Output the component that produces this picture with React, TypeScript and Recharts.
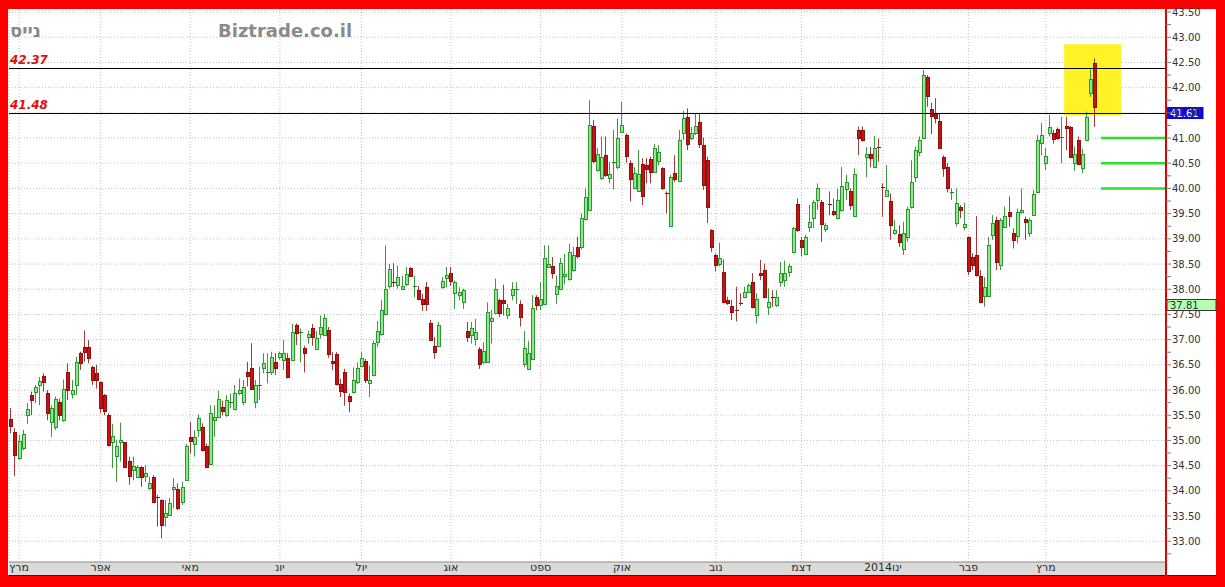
import React from 'react';
import {
  ComposedChart,
  Bar,
  XAxis,
  YAxis,
  CartesianGrid,
  ReferenceLine,
  ReferenceArea,
} from 'recharts';

// ---------------- DATA ----------------
const opens = [
  35.42, 35.16, 34.66, 34.84, 35.5, 35.9, 35.97, 36.1, 36.28, 35.95,
  35.37, 35.27, 35.77, 35.4, 36.36, 35.92, 36.1, 36.73, 36.86, 36.86,
  36.45, 36.33, 36.15, 35.9, 35.5, 34.97, 34.69, 34.96, 34.96, 34.6,
  34.41, 34.28, 34.48, 34.3, 34.05, 34.28, 33.88, 33.82, 33.49, 33.53,
  34.03, 34.03, 33.77, 34.21, 35.07, 34.93, 35.21, 35.27, 34.89, 34.53,
  35.4, 35.46, 35.67, 35.5, 35.74, 35.62, 35.95, 35.77, 36.36, 36.43,
  35.77, 36.09, 36.43, 36.33, 36.36, 36.56, 36.66, 36.6, 36.63, 36.6,
  37.29, 37.14, 36.84, 37.05, 37.23, 36.82, 37.12, 37.1, 37.2, 36.57,
  36.72, 36.11, 36.36, 35.88, 35.96, 36.16, 36.47, 36.57, 36.14, 36.29,
  36.95, 37.12, 37.51, 38.07, 38.15, 38.09, 38.01, 38.11, 38.42, 38.05,
  37.99, 37.81, 38.04, 37.33, 36.87, 36.88, 38.05, 38.23, 38.32, 37.92,
  37.89, 37.74, 37.17, 37.1, 37.02, 36.82, 36.55, 36.55, 37.37, 37.53,
  37.78, 37.78, 37.48, 37.88, 37.98, 37.7, 36.51, 36.42, 36.62, 37.84,
  37.68, 37.7, 38.45, 38.47, 37.9, 38.01, 38.26, 38.21, 38.39, 38.83,
  38.84, 39.39, 39.57, 41.24, 40.37, 40.2, 40.66, 40.2, 40.5, 40.42,
  41.12, 41.06, 40.51, 40.0, 39.95, 40.48, 40.46, 40.58, 40.33, 40.55,
  40.4, 39.91, 39.25, 40.3, 40.15, 41.09, 41.42, 41.0, 41.09, 41.32,
  40.86, 40.56, 39.17, 38.68, 38.5, 38.35, 37.78, 37.67, 37.59, 37.73,
  37.84, 37.95, 38.15, 37.49, 38.33, 38.38, 37.65, 37.84, 37.69, 38.15,
  38.18, 38.35, 38.74, 39.7, 38.98, 38.7, 39.24, 39.41, 39.78, 39.74,
  39.19, 39.7, 39.56, 39.41, 39.57, 39.98, 39.94, 39.45, 41.15, 41.15,
  40.62, 40.68, 40.42, 40.82, 40.03, 39.85, 39.76, 39.12, 39.1, 38.79,
  39.04, 39.64, 40.22, 40.73, 41.01, 42.22, 41.57, 41.48, 41.33, 40.63,
  40.43, 39.9, 39.32, 39.64, 39.23, 39.04, 38.64, 38.68, 38.26, 37.86,
  37.86, 39.07, 39.37, 38.48, 39.24, 39.54, 39.11, 39.06, 39.54, 39.39,
  39.11, 39.47, 39.93, 40.91, 40.51, 41.09, 41.09, 41.17, 41.0, 41.24,
  41.21, 40.5, 40.97, 40.4, 40.97, 41.9, 42.49,
];

const highs = [
  35.64, 35.24, 35.11, 35.21, 35.74, 35.97, 36.1, 36.26, 36.33, 36.0,
  35.7, 35.87, 35.83, 36.21, 36.53, 36.2, 36.66, 36.76, 37.18, 36.99,
  36.48, 36.5, 36.17, 35.92, 35.54, 35.33, 35.01, 35.35, 34.97, 34.68,
  34.68, 34.51, 34.49, 34.51, 34.28, 34.31, 33.92, 33.83, 33.82, 33.85,
  34.25, 34.15, 34.18, 34.93, 35.37, 35.2, 35.52, 35.34, 34.94, 35.7,
  35.7, 35.99, 35.79, 35.9, 35.93, 36.1, 36.23, 36.2, 36.56, 36.93,
  36.2, 36.46, 36.73, 36.73, 36.76, 36.73, 36.76, 36.99, 36.73, 37.31,
  37.32, 37.22, 36.88, 37.18, 37.31, 37.17, 37.48, 37.51, 37.25, 36.75,
  36.75, 36.22, 36.42, 35.93, 36.45, 36.55, 36.75, 36.62, 36.49, 36.98,
  37.37, 37.78, 38.87, 38.5, 38.52, 38.47, 38.27, 38.44, 38.44, 38.27,
  38.07, 37.91, 38.14, 37.39, 37.05, 37.35, 38.24, 38.44, 38.44, 38.17,
  38.04, 38.01, 37.35, 37.35, 37.41, 36.85, 36.95, 37.74, 37.59, 38.21,
  37.81, 38.09, 37.71, 38.14, 38.14, 37.78, 37.17, 36.97, 37.88, 37.88,
  38.14, 38.87, 38.87, 38.64, 38.27, 38.62, 38.7, 38.9, 38.84, 39.04,
  39.5, 40.0, 41.75, 41.36, 40.8, 41.03, 41.03, 40.53, 41.16, 41.39,
  41.72, 41.09, 40.56, 40.42, 40.76, 40.6, 40.6, 40.63, 40.88, 40.86,
  40.42, 39.94, 40.27, 40.66, 41.16, 41.54, 41.59, 41.22, 41.48, 41.48,
  41.01, 40.63, 39.19, 38.71, 38.92, 38.59, 37.85, 37.79, 38.05, 37.92,
  38.05, 38.11, 38.32, 37.92, 38.58, 38.51, 38.02, 37.98, 37.98, 38.54,
  38.57, 38.51, 39.24, 39.8, 39.04, 39.08, 39.67, 39.77, 40.1, 39.77,
  39.31, 39.94, 39.8, 40.0, 40.43, 40.27, 40.0, 40.4, 41.23, 41.23,
  40.82, 40.82, 41.04, 40.99, 40.1, 40.46, 39.9, 39.37, 39.27, 39.34,
  39.64, 40.56, 40.83, 41.03, 42.35, 42.25, 41.7, 41.79, 41.49, 40.66,
  40.5, 40.0, 40.0, 39.67, 39.72, 39.05, 38.71, 39.45, 38.38, 38.24,
  39.04, 39.47, 39.44, 39.41, 39.64, 39.84, 39.21, 39.6, 40.0, 39.44,
  39.41, 39.97, 41.06, 41.3, 40.8, 41.46, 41.16, 41.21, 41.42, 41.42,
  41.24, 40.83, 41.03, 40.79, 41.52, 42.36, 42.58,
];

const lows = [
  35.14, 34.29, 34.61, 34.81, 35.33, 35.5, 35.74, 35.7, 35.97, 35.4,
  35.07, 35.21, 35.4, 35.37, 35.8, 35.83, 35.9, 36.4, 36.56, 36.53,
  36.1, 36.03, 35.54, 35.5, 34.88, 34.45, 34.18, 34.58, 34.45, 34.12,
  34.21, 34.25, 34.08, 34.18, 34.02, 33.75, 33.29, 33.06, 33.29, 33.52,
  33.65, 33.62, 33.72, 34.2, 34.74, 34.68, 35.07, 34.78, 34.45, 34.52,
  35.07, 35.44, 35.5, 35.47, 35.64, 35.61, 35.9, 35.7, 36.07, 36.0,
  35.64, 35.8, 36.33, 36.13, 36.3, 36.3, 36.6, 36.4, 36.23, 36.59,
  36.89, 36.55, 36.35, 36.92, 36.88, 36.8, 37.02, 37.08, 36.64, 36.39,
  36.09, 35.86, 35.69, 35.56, 35.93, 36.12, 36.45, 36.14, 35.86, 36.27,
  36.85, 37.08, 37.48, 38.01, 38.04, 38.01, 37.98, 38.06, 38.24, 37.84,
  37.78, 37.57, 37.57, 36.98, 36.62, 36.87, 38.01, 38.04, 38.07, 37.61,
  37.78, 37.61, 36.95, 36.92, 36.88, 36.42, 36.52, 36.54, 36.92, 37.51,
  37.45, 37.48, 37.41, 37.78, 37.71, 37.26, 36.45, 36.4, 36.6, 37.58,
  37.58, 37.69, 38.44, 38.21, 37.71, 37.98, 38.1, 38.17, 38.35, 38.61,
  38.79, 39.36, 39.56, 40.5, 40.33, 40.17, 40.23, 40.1, 39.98, 40.38,
  41.1, 40.51, 39.74, 39.98, 39.93, 39.67, 40.1, 40.1, 40.31, 40.46,
  39.97, 39.5, 39.23, 40.13, 40.13, 40.96, 40.76, 40.96, 41.06, 40.8,
  39.97, 39.31, 38.74, 38.35, 38.45, 37.72, 37.69, 37.39, 37.36, 37.67,
  37.82, 37.92, 37.62, 37.32, 38.18, 37.82, 37.49, 37.65, 37.65, 38.05,
  38.05, 38.25, 38.71, 39.14, 38.65, 38.68, 39.14, 39.21, 39.57, 38.94,
  39.14, 39.47, 39.45, 39.39, 39.54, 39.77, 39.57, 39.44, 40.66, 40.93,
  40.22, 40.42, 40.4, 40.53, 39.44, 39.84, 38.98, 39.08, 38.84, 38.68,
  38.94, 39.6, 40.13, 40.64, 40.99, 41.62, 41.08, 41.29, 40.78, 40.23,
  39.92, 39.77, 39.24, 39.41, 39.17, 38.28, 38.38, 38.25, 37.72, 37.65,
  37.85, 38.98, 38.38, 38.38, 39.21, 39.24, 38.81, 38.91, 39.5, 38.98,
  39.04, 39.45, 39.9, 40.66, 40.37, 41.03, 40.89, 40.96, 40.5, 40.76,
  40.6, 40.35, 40.46, 40.3, 40.96, 41.82, 41.22,
];

const closes = [
  35.29, 34.71, 34.99, 35.13, 35.62, 35.8, 36.07, 36.18, 36.15, 35.54,
  35.64, 35.83, 35.5, 36.03, 36.0, 36.01, 36.56, 36.53, 36.76, 36.63,
  36.19, 36.2, 35.64, 35.59, 34.91, 35.09, 34.88, 35.0, 34.48, 34.29,
  34.5, 34.48, 34.27, 34.35, 34.16, 33.78, 33.85, 33.32, 33.57, 33.75,
  34.08, 33.65, 34.08, 34.88, 34.98, 35.07, 35.44, 34.81, 34.48, 35.55,
  35.47, 35.83, 35.59, 35.8, 35.77, 35.95, 36.01, 36.07, 36.28, 36.03,
  36.1, 36.1, 36.54, 36.35, 36.66, 36.43, 36.73, 36.74, 36.26, 37.16,
  37.14, 37.15, 36.73, 37.12, 37.06, 37.04, 37.25, 37.43, 36.72, 36.53,
  36.12, 35.98, 35.96, 35.79, 36.19, 36.44, 36.64, 36.19, 36.2, 36.93,
  37.17, 37.59, 38.01, 38.41, 38.13, 38.24, 38.07, 38.31, 38.27, 38.07,
  37.81, 37.71, 37.71, 37.0, 36.75, 37.3, 38.17, 38.29, 38.17, 38.14,
  37.94, 37.98, 37.06, 37.23, 37.16, 36.52, 36.77, 37.55, 37.43, 38.01,
  37.53, 37.73, 37.63, 38.01, 38.0, 37.45, 36.84, 36.73, 37.63, 37.68,
  37.81, 38.62, 38.5, 38.32, 38.07, 38.52, 38.31, 38.74, 38.68, 38.66,
  39.41, 39.82, 41.26, 40.55, 40.68, 40.63, 40.27, 40.29, 40.52, 41.01,
  41.26, 40.64, 40.18, 40.31, 40.29, 39.85, 40.38, 40.33, 40.81, 40.73,
  40.0, 39.89, 40.23, 40.18, 40.96, 41.39, 40.89, 41.09, 41.24, 40.89,
  40.07, 39.64, 38.84, 38.48, 38.61, 37.75, 37.73, 37.55, 37.57, 37.71,
  37.95, 38.08, 37.65, 37.8, 38.28, 37.85, 37.75, 37.82, 37.85, 38.32,
  38.32, 38.46, 39.21, 39.17, 38.83, 39.04, 39.34, 39.74, 40.0, 39.29,
  39.27, 39.68, 39.49, 39.77, 40.05, 40.13, 39.67, 40.29, 41.01, 40.97,
  40.68, 40.6, 40.8, 40.8, 40.0, 39.97, 39.27, 39.17, 38.94, 39.11,
  39.6, 40.13, 40.76, 40.96, 42.25, 41.83, 41.44, 41.39, 40.8, 40.4,
  40.0, 39.92, 39.72, 39.57, 39.29, 38.37, 38.48, 38.28, 37.75, 38.04,
  38.88, 39.31, 38.55, 39.37, 39.45, 39.45, 38.98, 39.54, 39.57, 39.34,
  39.37, 39.89, 40.96, 41.06, 40.64, 41.22, 40.99, 41.01, 41.03, 41.19,
  40.62, 40.68, 40.49, 40.69, 41.41, 42.18, 41.61,
];

// empty trading-day slots to the right of the last candle
const emptySlots = 17;

// month ticks (slot index of first trading day) and their labels
const monthStarts = [2, 22, 44, 66, 86, 108, 130, 150, 173, 194, 214, 235, 254];
const monthLabels = ['מרץ', 'אפר', 'מאי', 'יונ', 'יול', 'אוג', 'ספט', 'אוק', 'נוב', 'דצמ', '2014ינו', 'פבר', 'מרץ'];

// y axis
const yDomain: [number, number] = [32.588, 43.56];
const majorTicks = [
  33, 33.5, 34, 34.5, 35, 35.5, 36, 36.5, 37, 37.5, 38, 38.5, 39, 39.5, 40, 40.5,
  41, 41.5, 42, 42.5, 43, 43.5,
];
const minorTicks = [
  32.75, 33.25, 33.75, 34.25, 34.75, 35.25, 35.75, 36.25, 36.75, 37.25, 37.75, 38.25,
  38.75, 39.25, 39.75, 40.25, 40.75, 41.25, 41.75, 42.25, 42.75, 43.25,
];
const allTicks = [...majorTicks, ...minorTicks].sort((a, b) => a - b);

// annotations
const levelLines = [42.37, 41.48];
const supportLevels = [41.0, 40.5, 40.0];
const supportStart = [268, 268, 268];
const supportEnd = 283;
const highlight = { x1: 259, x2: 272, y1: 41.44, y2: 42.86 };
const lastPrice = 41.61;
const markerPrice = 37.81;

// ---------------- TABLE ----------------
type Row = { i: number; o: number | null; h: number | null; l: number | null; c: number | null };
const rows: Row[] = [];
for (let k = 0; k < opens.length + emptySlots; k++) {
  if (k < opens.length) rows.push({ i: k, o: opens[k], h: highs[k], l: lows[k], c: closes[k] });
  else rows.push({ i: k, o: null, h: null, l: null, c: null });
}

const labelOf = (v: number) => {
  const idx = monthStarts.indexOf(v);
  return idx >= 0 ? monthLabels[idx] : '';
};

const FONT = "'DejaVu Sans', Verdana, sans-serif";

// ---------------- SHAPES ----------------
const Candle = (props: any) => {
  const { x, y, width, height, payload } = props;
  if (!payload || payload.o == null || x == null || y == null) return null;
  const { o, h, l, c } = payload as { o: number; h: number; l: number; c: number };
  const top = Math.min(y, y + height);
  const span = Math.abs(height);
  const ppu = h > l ? span / (h - l) : 0;
  const py = (v: number) => top + (h - v) * ppu;
  const p = Math.floor(x + width / 2);
  const cx = p + 0.5;
  const up = c >= o;
  const wick = up ? '#3c9a3c' : '#a33a3a';
  const fill = up ? '#8ee88e' : '#cc1111';
  const edge = up ? '#2e962e' : '#8c1010';
  const bTop = Math.round(py(Math.max(o, c)));
  const bBot = Math.round(py(Math.min(o, c)));
  return (
    <g>
      <line x1={cx} x2={cx} y1={top} y2={top + span} stroke={wick} strokeWidth={1} />
      {bBot - bTop < 2 ? (
        <line x1={p - 1} x2={p + 3} y1={bTop + 0.5} y2={bTop + 0.5} stroke={up ? '#2e7a2e' : '#6a1a1a'} strokeWidth={1} />
      ) : (
        <rect x={p - 0.5} y={bTop + 0.5} width={3} height={bBot - bTop} fill={fill} stroke={edge} strokeWidth={1} />
      )}
    </g>
  );
};

const YTick = (props: any) => {
  const { x, y, payload } = props;
  const v = payload.value as number;
  if (!majorTicks.includes(v)) return <g />;
  return (
    <text x={x} y={y} dy={3.5} textAnchor="start" fontSize={10} fill="#333" fontFamily={FONT}>
      {v.toFixed(2)}
    </text>
  );
};

// crisp 1px horizontal line snapped to the pixel grid
const CrispLine = (props: any) => {
  const { x1, x2, y1, stroke } = props;
  if (x1 == null || y1 == null) return null;
  const yy = Math.floor(y1) + 0.5;
  return <line x1={x1} x2={x2} y1={yy} y2={yy} stroke={stroke} strokeWidth={1} />;
};

const levelLabel = (text: string) => (props: any) => {
  const vb = props.viewBox || {};
  return (
    <text
      x={(vb.x ?? 0) + 1}
      y={Math.floor(vb.y ?? 0) - 4}
      fill="#e01010"
      fontSize={12}
      fontStyle="italic"
      fontWeight="bold"
      fontFamily={FONT}
    >
      {text}
    </text>
  );
};

const priceTag = (text: string, bg: string, fg: string, w: number, border: string) => (props: any) => {
  const vb = props.viewBox || {};
  const bx = (vb.x ?? 0) + (vb.width ?? 0) + 1;
  const by = Math.round(vb.y ?? 0) + 0.5;
  return (
    <g>
      <rect x={bx} y={by} width={w} height={11} fill={bg} stroke={border} strokeWidth={1} />
      <text x={bx + 3} y={by + 9.5} fontSize={10} fill={fg} fontFamily={FONT}>
        {text}
      </text>
    </g>
  );
};

// ---------------- APP ----------------
export default function App() {
  return (
    <div
      style={{
        position: 'absolute',
        left: 0,
        top: 0,
        width: 1225,
        height: 587,
        background: '#ff0000',
        overflow: 'hidden',
      }}
    >
      <div style={{ position: 'absolute', left: 8, top: 9, width: 1208, height: 566, background: '#ffffff' }} />
      <div style={{ position: 'absolute', left: 9, top: 562, width: 1157, height: 13, background: '#dadada' }} />
      <div style={{ position: 'absolute', left: 9, top: 575, width: 1207, height: 1, background: '#222' }} />
      <div style={{ position: 'absolute', left: 1165, top: 560, width: 2, height: 16, background: '#e00000' }} />
      <div style={{ position: 'absolute', left: 0, top: 0 }}>
        <ComposedChart
          width={1225}
          height={587}
          data={rows}
          margin={{ top: 9, right: 9, bottom: 12, left: 9 }}
          barCategoryGap="10%"
        >
          <CartesianGrid stroke="#c2c2c2" strokeDasharray="1 2" horizontalValues={majorTicks} />
          <XAxis
            dataKey="i"
            type="category"
            ticks={monthStarts}
            interval={0}
            tickFormatter={labelOf}
            height={13}
            tickLine={false}
            tickSize={0}
            tickMargin={1}
            axisLine={{ stroke: '#8a8a8a' }}
            tick={{ fontSize: 11, fill: '#2a2a2a', fontFamily: FONT }}
          />
          <YAxis
            orientation="right"
            type="number"
            domain={yDomain}
            allowDataOverflow
            ticks={allTicks}
            interval={0}
            width={50}
            axisLine={{ stroke: '#e00000', strokeWidth: 2 }}
            tickLine={{ stroke: '#777' }}
            tickSize={5}
            tickMargin={1}
            tick={YTick}
          />
          <ReferenceArea
            x1={highlight.x1}
            x2={highlight.x2}
            y1={highlight.y1}
            y2={highlight.y2}
            fill="#fff326"
            fillOpacity={1}
            stroke="none"
          />
          {supportLevels.map((lv, k) => (
            <ReferenceArea
              key={`s${k}`}
              x1={supportStart[k]}
              x2={supportEnd}
              y1={lv - 0.025}
              y2={lv + 0.025}
              fill="#2ee02e"
              fillOpacity={1}
              stroke="none"
            />
          ))}
          {levelLines.map((lv) => (
            <ReferenceLine
              key={`l${lv}`}
              y={lv}
              stroke="#000"
              strokeWidth={1}
              shape={CrispLine}
              label={levelLabel(lv.toFixed(2))}
            />
          ))}
          <Bar
            dataKey={(d: Row) => (d.o == null ? null : [d.l, d.h])}
            shape={Candle}
            isAnimationActive={false}
          />
          <ReferenceLine
            y={lastPrice}
            stroke="none"
            label={priceTag(lastPrice.toFixed(2), '#0a0ae0', '#ffffff', 36, '#0a0ae0')}
          />
          <ReferenceLine
            y={markerPrice}
            stroke="none"
            label={priceTag(markerPrice.toFixed(2), '#b4ffb4', '#1a3a1a', 49, '#3a3a3a')}
          />
        </ComposedChart>
      </div>
      <svg
        width={1225}
        height={587}
        style={{ position: 'absolute', left: 0, top: 0, pointerEvents: 'none' }}
      >
        <text x={10} y={37} fontSize={18} fontWeight="bold" fill="#8a8a8a" fontFamily={FONT}>
          נייס
        </text>
        <text x={218} y={37} fontSize={18} fontWeight="bold" fill="#8a8a8a" fontFamily={FONT}>
          Biztrade.co.il
        </text>
      </svg>
    </div>
  );
}
